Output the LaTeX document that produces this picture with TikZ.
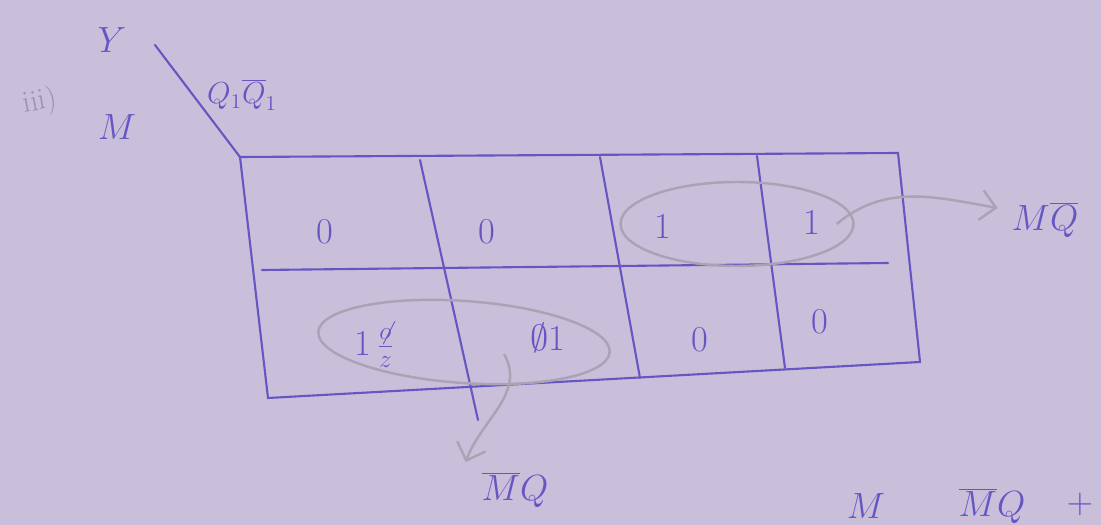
\documentclass[tikz,border=0pt]{standalone}
\usepackage{tikz}
\usetikzlibrary{arrows.meta,positioning,shapes.geometric,calc}
\definecolor{paper}{HTML}{C9BFDB}
\definecolor{ink}{HTML}{6656C2}
\definecolor{pencil}{HTML}{A9A3B4}
\definecolor{faint}{HTML}{9A90B0}
\tikzset{
  grid/.style={draw=ink,line width=1.2pt,line cap=round},
  cell/.style={text=ink,font=\huge,inner sep=1pt},
  lbl/.style={text=ink,font=\huge,inner sep=1pt},
  grp/.style={ellipse,draw=pencil,line width=1.4pt,inner sep=0pt},
  fl/.style={-{Straight Barb[length=3mm]},line width=1.4pt,draw=pencil},
}
\begin{document}
\begin{tikzpicture}[x=0.2mm,y=-0.2mm]
\fill[paper] (0,0) rectangle (1101,525);
\useasboundingbox (0,0) rectangle (1101,525);
% corners of the map
\coordinate (tl) at (240,157);\coordinate (tr) at (898,153);
\coordinate (br) at (920,362);\coordinate (bl) at (268,398);
\coordinate (ml) at (262,270);\coordinate (mr) at (888,263);
\coordinate (v1t) at (420,160);\coordinate (v1b) at (478,420);
\coordinate (v2t) at (600,157);\coordinate (v2b) at (640,378);
\coordinate (v3t) at (757,156);\coordinate (v3b) at (785,368);
\coordinate (diag) at (155,45);
\draw[grid](tl)--(tr)--(br)--(bl)--cycle;
\draw[grid](ml)--(mr);
\draw[grid](v1t)--(v1b);\draw[grid](v2t)--(v2b);\draw[grid](v3t)--(v3b);
\draw[grid](diag)--(tl);
% headings
\node[text=faint,font=\LARGE,rotate=10] (num) at (40,102){iii)};
\node[lbl] (y) at (112,40){$Y$};
\node[lbl] (m) at (117,127){$M$};
\node[lbl,font=\LARGE] (q) at (242,95){$Q_1\overline{Q}_1$};
% cells
\node[cell] (c11) at (325,232){0};
\node[cell] (c12) at (487,232){0};
\node[cell] (c13) at (663,226){1};
\node[cell] (c14) at (812,222){1};
\node[cell] (c21) at (374,345){1\,$\frac{\not{o}}{z}$};
\node[cell] (c22) at (548,338){$\emptyset$1};
\node[cell] (c23) at (700,340){0};
\node[cell] (c24) at (820,322){0};
% groups
\node[grp,minimum width=46.6mm,minimum height=16.8mm] (g1) at (737,224){};
\node[grp,minimum width=58.4mm,minimum height=16.4mm,rotate=-4] (g2) at (464,342){};
\node[lbl] (mq) at (1045,220){$M\overline{Q}$};
\node[lbl] (mbq) at (515,490){$\overline{M}Q$};
\draw[fl]($(g1.east)+(-18,0)$) to[out=40,in=170] ($(mq.west)+(-12,-12)$);
\draw[fl]($(g2.center)+(40,12)$) to[out=-60,in=70] ($(mbq.north west)+(-14,-8)$);
% result (cut off)
\node[lbl] (r1) at (866,506){$M$};
\node[lbl] (r2) at (992,506){$\overline{M}Q$};
\node[lbl] (r3) at (1080,504){$+$};
\end{tikzpicture}
\end{document}
